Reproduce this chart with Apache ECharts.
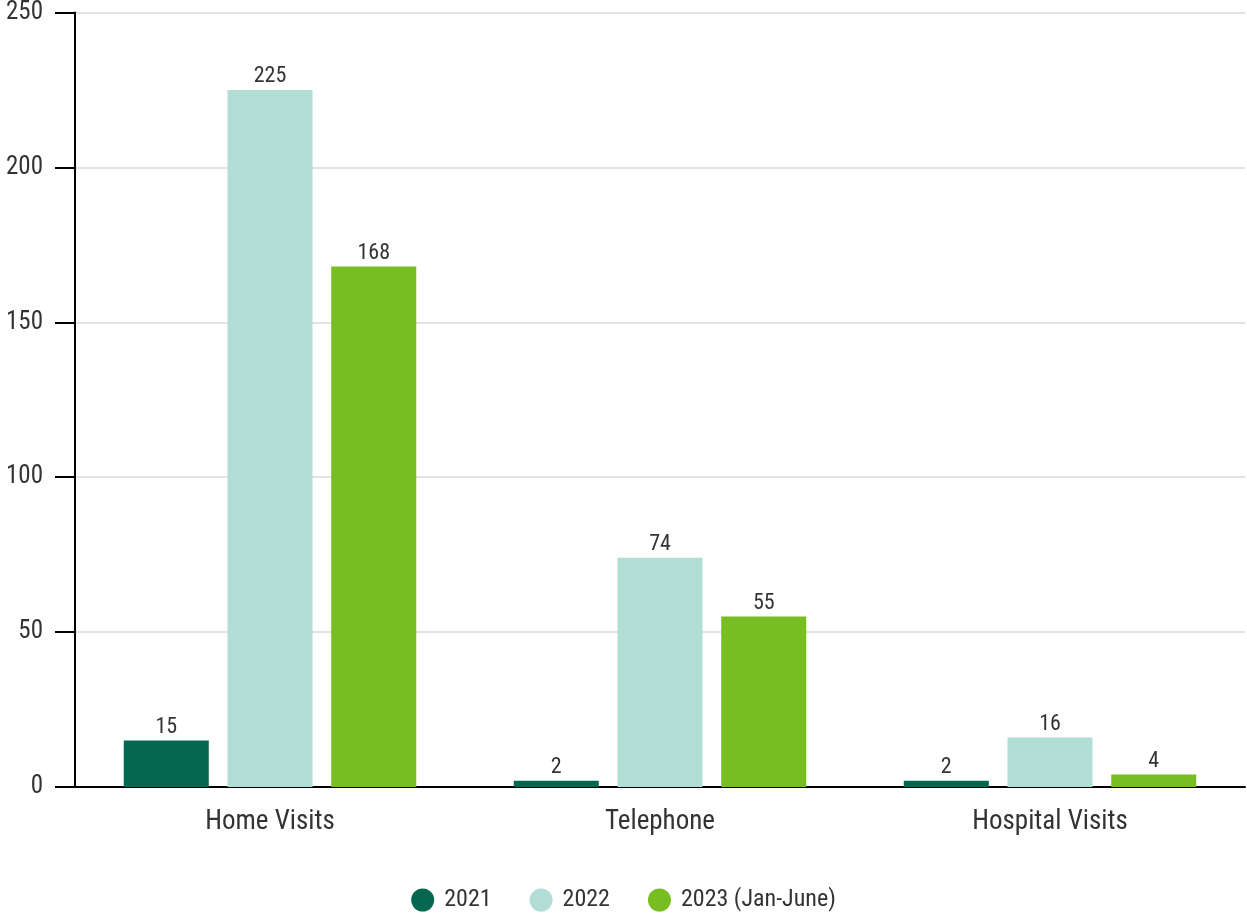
<!DOCTYPE html>
<html>
<head>
<meta charset="utf-8">
<script src="https://cdn.jsdelivr.net/npm/echarts@6/dist/echarts.min.js"></script>
<style>
  html, body { margin: 0; padding: 0; background: #fff; }
  #chart { width: 1247px; height: 917px; }
</style>
</head>
<body>
<div id="chart"></div>
<script>
const categories = ['Home Visits', 'Telephone', 'Hospital Visits'];
const seriesNames = ['2021', '2022', '2023 (Jan-June)'];
const values2021 = [15, 2, 2];
const values2022 = [225, 74, 16];
const values2023 = [168, 55, 4];
const colors = ['#03684f', '#b2ddd4', '#78bd21'];

const font = '"Roboto Condensed", Roboto, sans-serif';
const chart = echarts.init(document.getElementById('chart'));

function bar(name, data, color) {
  return {
    name: name,
    type: 'bar',
    data: data,
    barGap: '22%',
    barCategoryGap: '25%',
    itemStyle: { color: color },
    label: {
      show: true,
      position: 'top',
      distance: 2,
      color: '#333',
      fontFamily: font,
      fontSize: 22
    }
  };
}

const option = {
  animation: false,
  textStyle: { fontFamily: font },
  grid: { left: 75, right: 2, top: 11, bottom: 130 },
  legend: {
    bottom: 0,
    left: 'center',
    icon: 'circle',
    itemWidth: 23,
    itemHeight: 23,
    itemGap: 38,
    textStyle: { color: '#333', fontSize: 24, fontFamily: font, padding: [0, 0, 0, 5] },
    data: seriesNames
  },
  xAxis: {
    type: 'category',
    data: categories,
    axisLine: { lineStyle: { color: '#000', width: 2 } },
    axisTick: { alignWithLabel: true, length: 18, lineStyle: { color: '#000', width: 2 } },
    axisLabel: { color: '#333', fontSize: 27, fontFamily: font, margin: 22 }
  },
  yAxis: {
    type: 'value',
    min: 0,
    max: 250,
    interval: 50,
    axisLine: { show: true, lineStyle: { color: '#000', width: 2 } },
    axisTick: { show: true, length: 20, lineStyle: { color: '#000', width: 2 } },
    axisLabel: { color: '#333', fontSize: 25, fontFamily: font, margin: 32, verticalAlign: 'middle', padding: [8, 0, 0, 0] },
    splitLine: { lineStyle: { color: '#e3e3e3', width: 2 } }
  },
  series: [
    bar(seriesNames[0], values2021, colors[0]),
    bar(seriesNames[1], values2022, colors[1]),
    bar(seriesNames[2], values2023, colors[2])
  ]
};

chart.setOption(option);
window.addEventListener('resize', function () {
  chart.resize();
});
</script>
</body>
</html>
